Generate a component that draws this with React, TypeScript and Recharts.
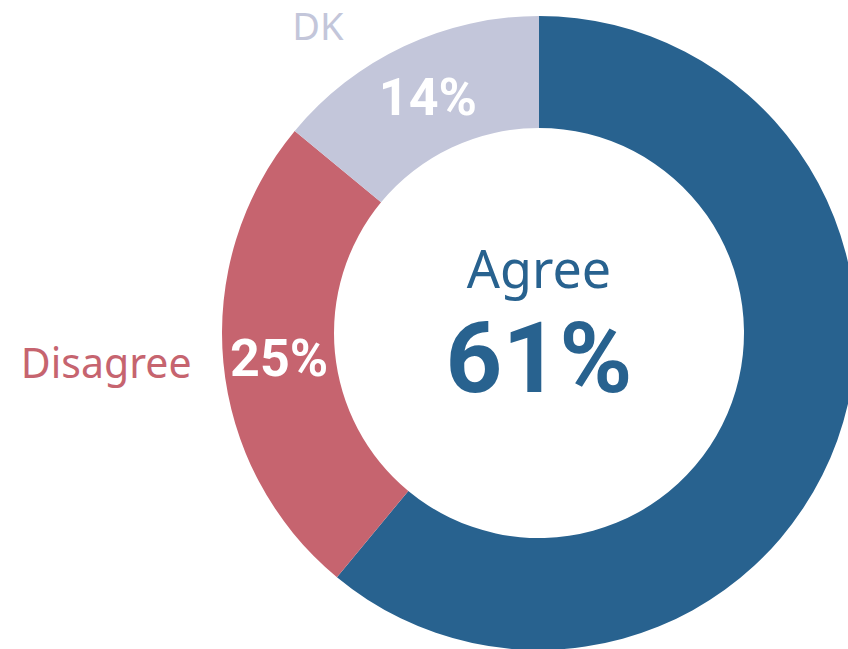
import { PieChart, Pie, Cell } from 'recharts';

const names = ['Agree', 'Disagree', 'DK'];
const values = [61, 25, 14];
const colors = ['#28628f', '#c6646f', '#c3c6da'];

const data = names.map((name, i) => ({ name, value: values[i] }));

const RAD = Math.PI / 180;
const LABEL_FONT = '"Noto Sans", Lato, sans-serif';
const NUM_FONT = 'Roboto, "Noto Sans", sans-serif';

function renderLabel(props: any) {
  const { cx, cy, midAngle, innerRadius, outerRadius, name, value, index } = props;
  const color = colors[index];

  // Agree sits in the middle of the donut
  if (name === 'Agree') {
    return (
      <g key={name}>
        <text x={cx} y={cy - 45} textAnchor="middle" fill={color} fontSize={52} fontFamily={LABEL_FONT}>
          {name}
        </text>
        <text x={cx} y={cy + 59} textAnchor="middle" fill={color} fontSize={99} fontWeight={700} fontFamily={NUM_FONT}>
          {value}%
        </text>
      </g>
    );
  }

  const r = (innerRadius + outerRadius) / 2;
  const x = cx + r * Math.cos(-midAngle * RAD);
  const y = cy + r * Math.sin(-midAngle * RAD);

  let outside;
  if (name === 'Disagree') {
    const ro = outerRadius + 30;
    outside = (
      <text x={cx + ro * Math.cos(-midAngle * RAD) - 2} y={cy + 45} textAnchor="end" fill={color} fontSize={41} fontFamily={LABEL_FONT}>
        {name}
      </text>
    );
  } else {
    outside = (
      <text x={cx - 221} y={cy - 293} textAnchor="middle" fill={color} fontSize={38} fontFamily={LABEL_FONT}>
        {name}
      </text>
    );
  }

  return (
    <g key={name}>
      <text x={x} y={y + 18} textAnchor="middle" fill="#ffffff" fontSize={52} fontWeight={700} fontFamily={NUM_FONT}>
        {value}%
      </text>
      {outside}
    </g>
  );
}

export default function App() {
  return (
    <div style={{ position: 'absolute', left: 0, top: 0, width: 848, height: 649, background: '#fff', overflow: 'hidden' }}>
      <PieChart width={848} height={649} margin={{ top: 0, right: 0, bottom: 0, left: 0 }}>
        <Pie
          data={data}
          dataKey="value"
          nameKey="name"
          cx={539}
          cy={333}
          innerRadius={205}
          outerRadius={317}
          startAngle={90}
          endAngle={-270}
          stroke="none"
          label={renderLabel}
          labelLine={false}
          isAnimationActive={false}
        >
          {data.map((d, i) => (
            <Cell key={d.name} fill={colors[i]} />
          ))}
        </Pie>
      </PieChart>
    </div>
  );
}
